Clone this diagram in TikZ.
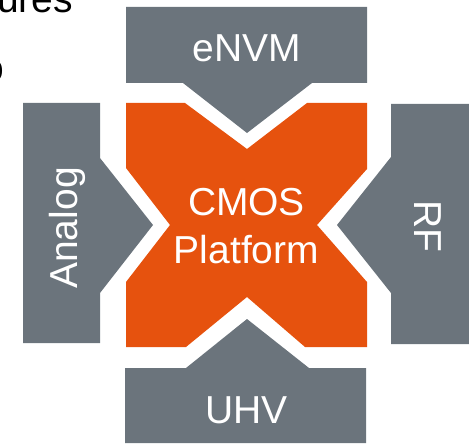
\documentclass[tikz,border=0pt]{standalone}
\usepackage{fontspec}
\setmainfont{Liberation Sans}
\definecolor{slategray}{RGB}{107,116,124}
\definecolor{cmosorange}{RGB}{230,82,14}
\tikzset{
  graybox/.style={fill=slategray, draw=none},
  orangebox/.style={fill=cmosorange, draw=none},
  lbl/.style={text=white, font=\fontsize{39}{47}\selectfont, inner sep=0pt, align=center},
  cut/.style={text=black, font=\fontsize{39}{47}\selectfont, inner sep=0pt}
}
\begin{document}
\begin{tikzpicture}[x=1pt,y=-1pt]
\useasboundingbox (0,0) rectangle (469,444);
\clip (0,0) rectangle (469,444);
% clipped slide text
\node[cut, anchor=base west] (t1) at (-3,13) {ures};
\node[cut, anchor=base east] (t2) at (4.5,82) {o};
% orange X
\path[orangebox] (126,103) -- (185,103) -- (247,149) -- (307,103) -- (367,103)
  -- (367,169) -- (317,225) -- (367,282) -- (367,347)
  -- (305,347) -- (247,297) -- (186,347) -- (126,347)
  -- (126,282) -- (170,225) -- (126,168) -- cycle;
% top eNVM
\path[graybox] (126,7) -- (367,7) -- (367,83) -- (312,83) -- (247,133) -- (183,83) -- (126,83) -- cycle;
% bottom UHV
\path[graybox] (125,368) -- (186,368) -- (247,319) -- (309,368) -- (366,368) -- (366,443) -- (125,443) -- cycle;
% left Analog
\path[graybox] (23,103) -- (100,103) -- (100,158) -- (153,225) -- (100,293) -- (100,343) -- (23,343) -- cycle;
% right RF
\path[graybox] (391,104) -- (469,104) -- (469,344) -- (391,344) -- (391,293) -- (337,225) -- (391,157) -- cycle;
% labels
\node[lbl, anchor=base] (envm) at (246.5,62) {eNVM};
\node[lbl, anchor=base] (cmos) at (246.5,215) {CMOS};
\node[lbl, anchor=base] (plat) at (246.5,263) {Platform};
\node[lbl, anchor=base] (uhv) at (246.5,423) {UHV};
\node[lbl, anchor=base, rotate=90] (analog) at (77,228) {Analog};
\node[lbl, anchor=base, rotate=-90] (rf) at (414,226) {RF};
\end{tikzpicture}
\end{document}
